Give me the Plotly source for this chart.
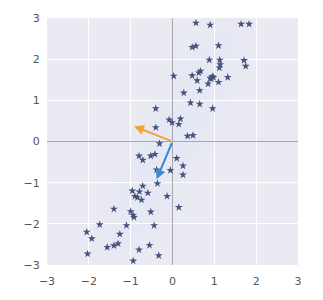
import numpy as np
import plotly.graph_objects as go

x_vals = [0.56, 0.90, 1.64, 1.83, 0.47, 0.56, 1.10, 0.88, 1.13, 1.14, 1.12, 1.71, 1.75,
          0.03, 0.47, 0.63, 0.67, 0.59, 0.90, 0.95, 0.93, 0.98, 0.85, 1.10, 1.32,
          0.27, 0.65, 0.43, 0.65, 0.96, -0.01, 0.19, 0.15, -0.08, 0.36, 0.49,
          -0.40, -0.40, -0.31, -0.80, -0.71, -0.52, -0.42, 0.10, 0.25, -0.38, -0.05,
          0.25, -0.36, -0.71, 0.15, -0.96, -0.79, -0.90, -0.84, -0.74, -0.59, -0.13,
          -1.40, -1.00, -0.94, -0.92, -0.52, -1.74, -1.10, -0.44, -2.05, -1.93, -1.26,
          -1.56, -1.40, -1.30, -0.80, -0.55, -0.33, -2.03, -0.94]
y_vals = [2.88, 2.83, 2.85, 2.85, 2.29, 2.32, 2.33, 1.98, 1.98, 1.87, 1.79, 1.97, 1.83,
          1.59, 1.60, 1.67, 1.71, 1.48, 1.54, 1.58, 1.52, 1.56, 1.40, 1.44, 1.56,
          1.18, 1.24, 0.94, 0.91, 0.80, 0.46, 0.55, 0.42, 0.53, 0.13, 0.15,
          0.80, 0.34, -0.05, -0.35, -0.45, -0.35, -0.31, -0.41, -0.59, -0.69, -0.70,
          -0.81, -1.02, -1.08, -1.60, -1.20, -1.22, -1.33, -1.36, -1.42, -1.25, -1.33,
          -1.64, -1.70, -1.79, -1.84, -1.71, -2.02, -2.04, -2.04, -2.20, -2.36, -2.25,
          -2.57, -2.53, -2.48, -2.63, -2.52, -2.77, -2.73, -2.90]

arrow_orange = [-0.92, 0.37]
arrow_blue = [-0.38, -0.92]

tick_vals = [-3, -2, -1, 0, 1, 2, 3]

fig = go.Figure()

# faint density-like ellipses from data covariance
xa = np.array(x_vals); ya = np.array(y_vals)
mu = np.array([xa.mean(), ya.mean()])
cov = np.cov(np.vstack([xa, ya]))
w, v = np.linalg.eigh(cov)
t = np.linspace(0, 2 * np.pi, 80)
shapes = []
for k, op in [(2.2, 0.12), (1.6, 0.14), (1.0, 0.16)]:
    pts = (v @ np.diag(np.sqrt(w) * k) @ np.vstack([np.cos(t), np.sin(t)])).T + mu
    path = "M " + " L ".join(f"{p[0]:.3f},{p[1]:.3f}" for p in pts) + " Z"
    shapes.append(dict(type="path", path=path, xref="x", yref="y",
                       fillcolor=f"rgba(218,234,252,{op})", line=dict(width=0), layer="below"))

fig.add_trace(go.Scatter(x=x_vals, y=y_vals, mode="markers",
                         marker=dict(symbol="star", size=6, color="#47527c",
                                     line=dict(width=0)),
                         showlegend=False))

annotations = []
for vec, col in [(arrow_orange, "#f2a535"), (arrow_blue, "#3a8ad4")]:
    annotations.append(dict(x=vec[0], y=vec[1], ax=0, ay=0, xref="x", yref="y",
                            axref="x", ayref="y", showarrow=True, arrowhead=2,
                            arrowsize=1, arrowwidth=2, arrowcolor=col, text=""))

axis_common = dict(range=[-3, 3], tickvals=tick_vals, showgrid=True, gridcolor="white",
                   gridwidth=1, zeroline=True, zerolinecolor="#a8a8a8", zerolinewidth=1,
                   tickfont=dict(family="DejaVu Sans", size=11, color="#555555"),
                   ticks="outside", tickcolor="rgba(0,0,0,0)", showline=False)

fig.update_layout(width=323, height=300,
                  margin=dict(l=47, r=25, t=17, b=32),
                  paper_bgcolor="white", plot_bgcolor="#eaeaf2",
                  xaxis=dict(**axis_common, ticklen=6),
                  yaxis=dict(**axis_common, ticklen=4),
                  shapes=shapes, annotations=annotations)

fig.write_html("out.html")
